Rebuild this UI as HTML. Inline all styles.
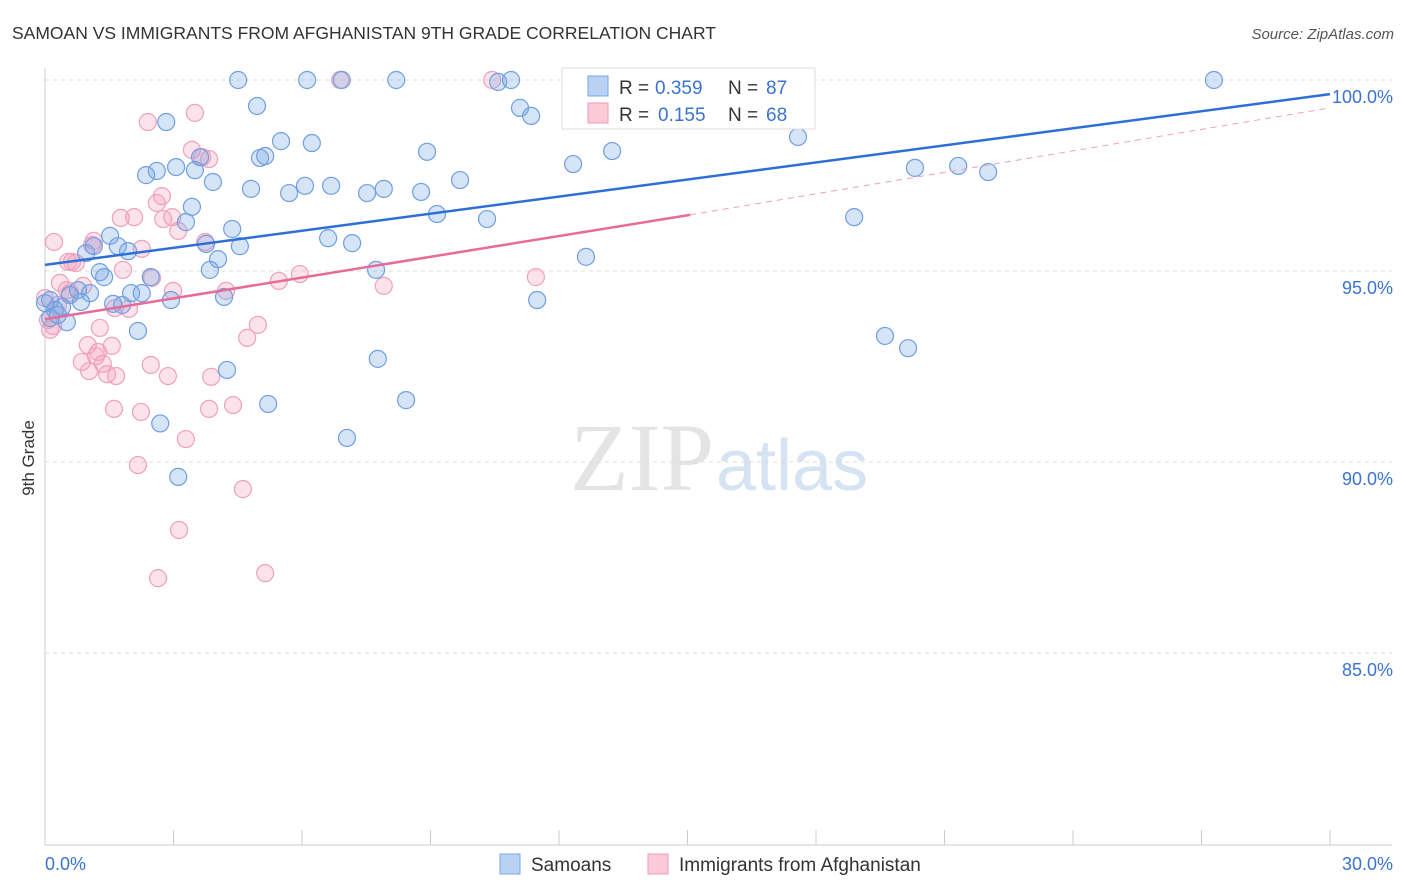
<!DOCTYPE html>
<html><head><meta charset="utf-8"><style>
body{margin:0;background:#fff;font-family:"Liberation Sans",sans-serif}
svg{display:block}
</style></head><body>
<svg id="chart" width="1406" height="892" xmlns="http://www.w3.org/2000/svg">
<text x="12" y="39" font-size="17.5" fill="#333">SAMOAN VS IMMIGRANTS FROM AFGHANISTAN 9TH GRADE CORRELATION CHART</text>
<text x="1394" y="39" font-size="15" fill="#555" font-style="italic" text-anchor="end">Source: ZipAtlas.com</text>
<text x="0" y="0" transform="translate(34,458) rotate(-90)" font-size="17" fill="#333" text-anchor="middle">9th Grade</text>
<text x="714" y="490" font-size="96" fill="#e4e4e4" text-anchor="end" font-family="Liberation Serif,serif">ZIP</text>
<text x="716" y="490" font-size="72" fill="#d6e3f3">atlas</text>
<g id="grid"></g><g id="pts"></g><g id="lines"></g>
<g>
<rect x="562" y="68" width="253" height="61" fill="#fff" stroke="#ddd"/>
<rect x="588" y="76" width="20" height="20" fill="#b9d2f3" stroke="#7aa6e3"/>
<rect x="588" y="103" width="20" height="20" fill="#fbc9d8" stroke="#f09ab5"/>
<text x="619" y="94" font-size="19" fill="#333">R =</text>
<text x="655" y="94" font-size="19" fill="#3a73d0">0.359</text>
<text x="728" y="94" font-size="19" fill="#333">N =</text>
<text x="766" y="94" font-size="19" fill="#3a73d0">87</text>
<text x="619" y="121" font-size="19" fill="#333">R =</text>
<text x="658" y="121" font-size="19" fill="#3a73d0">0.155</text>
<text x="728" y="121" font-size="19" fill="#333">N =</text>
<text x="766" y="121" font-size="19" fill="#3a73d0">68</text>
</g>
<g>
<rect x="500" y="854" width="20" height="20" fill="#b9d2f3" stroke="#7aa6e3"/>
<text x="531" y="871" font-size="19" fill="#333">Samoans</text>
<rect x="648" y="854" width="20" height="20" fill="#fbc9d8" stroke="#f09ab5"/>
<text x="679" y="871" font-size="19" fill="#333">Immigrants from Afghanistan</text>
</g>
</svg>
<script>
const yTicks=[100,95,90,85];
const yTickLabels=["100.0%","95.0%","90.0%","85.0%"];
const xEndLabels=["0.0%","30.0%"];
const blueX=[4.51,6.12,6.93,8.20,10.88,27.29,14.01,2.83,4.95,11.09,11.35,10.58,5.51,6.23,5.02,5.14,8.92,13.24,12.33,17.58,3.62,2.61,2.36,3.06,3.50,3.92,4.81,5.70,6.07,6.68,7.52,7.91,8.78,9.69,9.15,10.32,18.89,20.31,21.32,22.02,3.43,3.29,4.37,1.52,1.14,1.70,1.94,0.96,3.76,4.55,6.61,7.17,4.04,3.85,7.73,12.63,1.28,1.38,2.47,0.58,0.77,1.05,2.01,2.26,0.84,1.59,1.80,0.40,0.12,0.23,2.94,4.18,11.49,0.51,2.17,4.25,7.77,19.61,20.15,5.21,8.43,2.69,7.05,3.11,0,0.12,0.30];
const blueY=[100,100,100,100,100,100,100,98.90,99.32,99.27,99.06,99.95,98.40,98.35,97.96,98.01,98.12,98.14,97.80,98.51,97.98,97.62,97.51,97.72,97.64,97.33,97.15,97.04,97.23,97.23,97.04,97.15,97.07,97.38,96.49,96.36,96.41,97.70,97.75,97.59,96.68,96.28,96.10,95.92,95.65,95.65,95.52,95.47,95.71,95.65,95.86,95.73,95.31,95.03,95.03,95.37,94.97,94.84,94.84,94.37,94.50,94.42,94.42,94.42,94.19,94.14,94.11,94.06,94.24,93.98,94.24,94.32,94.24,93.66,93.43,92.41,92.70,93.30,92.98,91.52,91.62,91.01,90.63,89.61,94.16,93.77,93.85];
const pinkX=[6.89,10.44,2.40,3.50,3.43,3.83,3.67,2.73,2.61,2.97,3.11,2.76,1.77,2.08,0.21,1.14,1.10,2.26,3.74,0.63,0.54,0.72,1.82,2.50,5.95,5.46,11.46,7.91,0.35,0.89,0.51,0.58,2.99,4.23,0,0.30,1.63,1.96,0.07,0.19,1.28,4.97,4.72,1.00,1.56,1.24,1.19,0.86,2.47,1.35,1.03,1.45,1.66,2.87,3.88,1.61,2.24,3.83,4.39,2.17,3.29,4.62,3.13,2.64,5.14,0.12];
const pinkY=[100,100,98.90,99.14,98.17,97.93,97.98,96.96,96.78,96.41,96.05,96.36,96.39,96.41,95.76,95.79,95.68,95.58,95.76,95.24,95.24,95.21,95.03,94.82,94.92,94.74,94.84,94.61,94.69,94.61,94.50,94.42,94.48,94.48,94.29,94.11,94.03,94.01,93.72,93.56,93.51,93.59,93.25,93.06,93.04,92.88,92.77,92.62,92.54,92.57,92.38,92.30,92.25,92.25,92.23,91.39,91.31,91.39,91.49,89.92,90.60,89.29,88.22,86.96,87.09,93.46];
const blueTrend=[[0,95.16],[30,99.63]];
const pinkTrendSolid=[[0,93.74],[15.06,96.47]];
const pinkTrendDash=[[15.06,96.47],[30,99.27]];

const NS="http://www.w3.org/2000/svg";
const X=v=>45+v*(1285/30);
const Y=v=>80+(100-v)*38.2;
function mk(tag,attrs,parent){const e=document.createElementNS(NS,tag);for(const k in attrs)e.setAttribute(k,attrs[k]);parent.appendChild(e);return e;}
const grid=document.getElementById('grid');
yTicks.forEach((t,i)=>{
  const l=mk('line',{x1:45,x2:1392,y1:Y(t),y2:Y(t),stroke:'#ddd','stroke-dasharray':'4,4'},grid);
  
  
  const tx=mk('text',{x:1393,y:Y(t)+23,'font-size':18,fill:'#3a73d0','text-anchor':'end'},grid);
  tx.textContent=yTickLabels[i];
  
  
});
const ax=mk('line',{x1:45,x2:45,y1:68,y2:845,stroke:'#ccc'},grid);


const bx=mk('line',{x1:45,x2:1392,y1:845,y2:845,stroke:'#ccc'},grid);


for(let i=0;i<=10;i++){
  const t=mk('line',{x1:X(i*3),x2:X(i*3),y1:830,y2:845,stroke:'#ccc'},grid);
  
  
}
[[0,'start'],[30,'end']].forEach((p,i)=>{
  const t=mk('text',{x:X(p[0])+(i?63:0),y:870,'font-size':18,fill:'#3a73d0','text-anchor':p[1]},grid);
  t.textContent=xEndLabels[i];
  
  
});
const pts=document.getElementById('pts');
pinkX.forEach((x,i)=>{
  const c=mk('circle',{cx:X(x),cy:Y(pinkY[i]),r:8.5,fill:'rgba(245,160,190,0.3)',stroke:'#f0a0ba','stroke-width':1.2},pts);
  
  
});
blueX.forEach((x,i)=>{
  const c=mk('circle',{cx:X(x),cy:Y(blueY[i]),r:8.5,fill:'rgba(120,165,230,0.3)',stroke:'#6f9fe0','stroke-width':1.2},pts);
  
  
});
const lines=document.getElementById('lines');
const bl=mk('line',{x1:X(blueTrend[0][0]),y1:Y(blueTrend[0][1]),x2:X(blueTrend[1][0]),y2:Y(blueTrend[1][1]),stroke:'#2e6fd6','stroke-width':2.5},lines);


const pl=mk('line',{x1:X(pinkTrendSolid[0][0]),y1:Y(pinkTrendSolid[0][1]),x2:X(pinkTrendSolid[1][0]),y2:Y(pinkTrendSolid[1][1]),stroke:'#e86a97','stroke-width':2.5},lines);


const pd=mk('line',{x1:X(pinkTrendDash[0][0]),y1:Y(pinkTrendDash[0][1]),x2:X(pinkTrendDash[1][0]),y2:Y(pinkTrendDash[1][1]),stroke:'#eea0bb','stroke-width':1,'stroke-dasharray':'6,5'},lines);


</script>
</body></html>
